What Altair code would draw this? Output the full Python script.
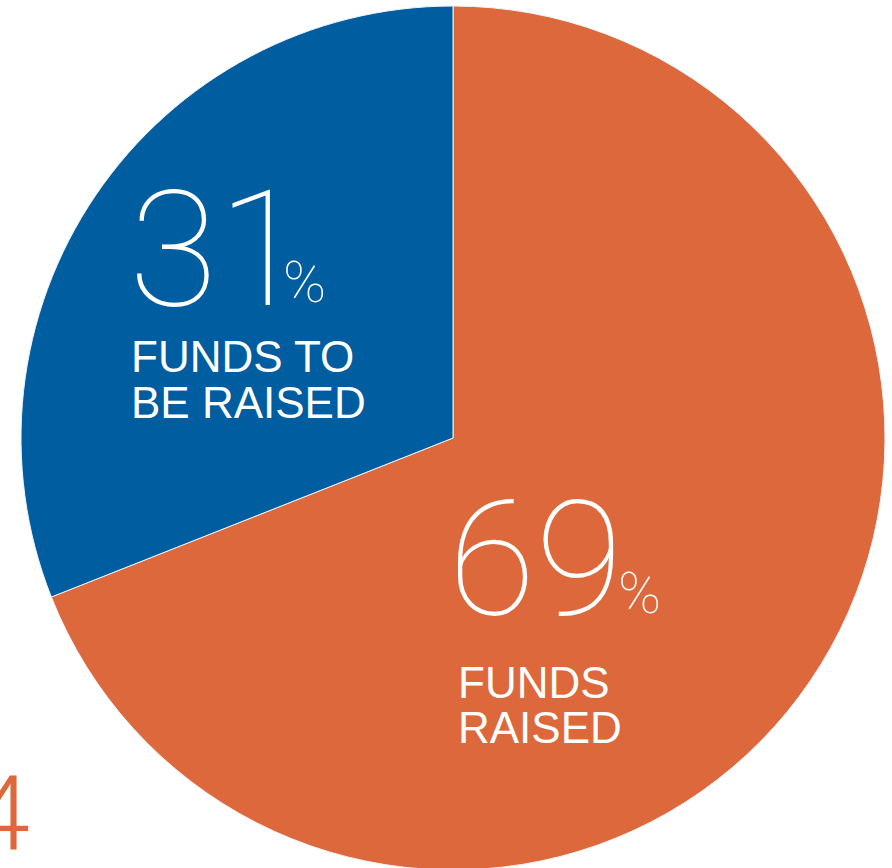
import altair as alt
import pandas as pd

categories = ["Funds raised", "Funds to be raised"]
shares = [69, 31]
colors = ["#DD683C", "#005DA0"]

df = pd.DataFrame({"category": categories, "share": shares, "order": [0, 1]})

pie = alt.Chart(df).mark_arc(stroke="#EEF3F8", strokeWidth=1).encode(
    theta=alt.Theta("share:Q", stack=True),
    order=alt.Order("order:Q"),
    color=alt.Color("category:N", scale=alt.Scale(domain=categories, range=colors), legend=None),
    x=alt.value(453),
    y=alt.value(438),
    radius=alt.value(432),
)

def txt(s, x, y, size, weight=400, color="white", font="Roboto", align="left"):
    kw = dict(align=align, baseline="alphabetic", fontSize=size, fontWeight=weight,
              font=font, color=color)
    return alt.Chart(pd.DataFrame({"t": [s]})).mark_text(**kw).encode(
        text="t:N", x=alt.value(x), y=alt.value(y))

big_num_31 = f"{shares[1]}"
big_num_69 = f"{shares[0]}"

layers = [
    pie,
    txt(big_num_31, 129, 305, 162, weight=100),
    txt("%", 283, 302, 58, weight=100),
    txt("FUNDS TO", 131, 372, 44, font="Liberation Sans", weight=400),
    txt("BE RAISED", 131, 418, 44, font="Liberation Sans", weight=400),
    txt(big_num_69, 448, 614, 160, weight=100),
    txt("%", 618, 613, 58, weight=100),
    txt("FUNDS", 458, 698, 44, font="Liberation Sans", weight=400),
    txt("RAISED", 458, 743, 44, font="Liberation Sans", weight=400),
    txt("4", 30, 850, 104, weight=300, color="#DD683C", align="right"),
]

chart = alt.layer(*layers).properties(
    width=892, height=868, padding=0, autosize=alt.AutoSizeParams(type="none"),
    background="white",
).configure_view(stroke=None)

chart.save("out.html", embed_options={"renderer": "svg", "actions": False})
